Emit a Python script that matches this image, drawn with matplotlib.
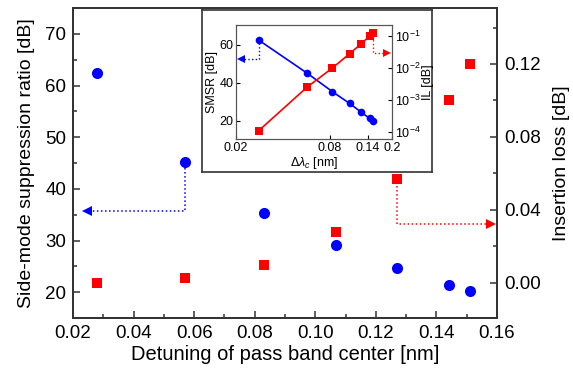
import matplotlib
matplotlib.use("Agg")
import matplotlib.pyplot as plt
import numpy as np
from matplotlib.ticker import FixedLocator, MultipleLocator, LogLocator, NullLocator, FuncFormatter

plt.rcParams['font.family'] = ['Liberation Sans', 'DejaVu Sans']
plt.rcParams['mathtext.fontset'] = 'custom'
plt.rcParams['mathtext.rm'] = 'Liberation Sans'
plt.rcParams['mathtext.it'] = 'Liberation Sans:italic'

# data
detuning = [0.028, 0.057, 0.083, 0.107, 0.127, 0.144, 0.151]
smsr = [62.5, 45.2, 35.4, 29.2, 24.6, 21.3, 20.2]
il = [0.00011, 0.0025, 0.010, 0.028, 0.057, 0.100, 0.120]
x_ticks = [0.02, 0.04, 0.06, 0.08, 0.10, 0.12, 0.14, 0.16]
inset_x_ticks = [0.02, 0.08, 0.14, 0.2]

blue = '#0000FF'
red = '#FF0000'
spine_col = '#333333'

fig = plt.figure(figsize=(5.73, 3.78), dpi=100)
ax = fig.add_axes([0.1274, 0.1587, 0.74, 0.8201])
ax2 = ax.twinx()

ax.plot(detuning, smsr, 'o', color=blue, markersize=8, markeredgewidth=0, zorder=3)
ax2.plot(detuning, il, 's', color=red, markersize=7.5, markeredgewidth=0, zorder=3)

ax.set_xlim(0.02, 0.16)
ax.set_ylim(15, 75)
ax2.set_ylim(-0.0193, 0.1507)
ax.xaxis.set_major_locator(FixedLocator(x_ticks))
ax.xaxis.set_minor_locator(MultipleLocator(0.01))
ax.xaxis.set_major_formatter(FuncFormatter(lambda v, p: f"{v:.2f}"))
ax.yaxis.set_major_locator(MultipleLocator(10))
ax.yaxis.set_minor_locator(MultipleLocator(5))
ax2.yaxis.set_major_locator(MultipleLocator(0.04))
ax2.yaxis.set_minor_locator(MultipleLocator(0.02))
ax2.yaxis.set_major_formatter(FuncFormatter(lambda v, p: f"{v:.2f}"))

for a in (ax, ax2):
    a.tick_params(which='both', direction='in', labelsize=13.5, width=1.1, colors=spine_col, labelcolor='black', pad=5)
    a.tick_params(which='major', length=5)
    a.tick_params(which='minor', length=3)
    for s in a.spines.values():
        s.set_linewidth(1.3)
        s.set_color(spine_col)
ax.tick_params(axis='x', which='both', top=False)
ax.tick_params(axis='y', which='both', right=False)
ax2.tick_params(axis='y', which='both', left=False)

ax.set_xlabel('Detuning of pass band center [nm]', fontsize=14.5, labelpad=2)
ax.set_ylabel('Side-mode suppression ratio [dB]', fontsize=14, labelpad=7)
ax2.set_ylabel('Insertion loss [dB]', fontsize=14, labelpad=9)

# indicator arrows (main)
ax.plot([detuning[1], detuning[1], 0.0255], [smsr[1] - 1.2, 35.8, 35.8], ':', color=blue, lw=1.1, zorder=2)
ax.plot([0.0245], [35.8], '<', color=blue, markersize=7, markeredgewidth=0)
ax2.plot([detuning[4], detuning[4], 0.157], [il[4] - 0.004, 0.032, 0.032], ':', color=red, lw=1.1, zorder=2)
ax2.plot([0.158], [0.032], '>', color=red, markersize=7, markeredgewidth=0, clip_on=False)

# inset frame
frame = fig.add_axes([0.3525, 0.545, 0.4014, 0.4286], zorder=5)
frame.set_xticks([]); frame.set_yticks([])
frame.set_facecolor('white')
for s in frame.spines.values():
    s.set_linewidth(1.2)
    s.set_color(spine_col)

ins = fig.add_axes([0.4119, 0.6323, 0.2722, 0.3016], zorder=6)
ins2 = ins.twinx()
ins.set_xscale('log')
ins.plot(detuning, smsr, '-o', color=blue, markersize=5.5, markeredgewidth=0, lw=1.2, zorder=3)
ins2.set_yscale('log')
ins2.plot(detuning, il, '-s', color=red, markersize=5.2, markeredgewidth=0, lw=1.2, zorder=3)
ins.set_xlim(0.02, 0.2)
ins.set_ylim(10.5, 70.5)
ins2.set_ylim(10**-4.22, 10**-0.656)
ins.xaxis.set_major_locator(FixedLocator(inset_x_ticks))
ins.xaxis.set_minor_locator(NullLocator())
ins.xaxis.set_major_formatter(FuncFormatter(lambda v, p: f"{v:g}"))
ins.yaxis.set_major_locator(MultipleLocator(20))
ins.yaxis.set_minor_locator(NullLocator())
ins2.yaxis.set_major_locator(LogLocator(base=10, numticks=10))
ins2.yaxis.set_minor_locator(NullLocator())
for a in (ins, ins2):
    a.tick_params(which='both', direction='in', labelsize=9, length=3, width=0.8, pad=2)
    for s in a.spines.values():
        s.set_linewidth(0.8)
        s.set_color('#555555')
ins.tick_params(axis='x', top=False)
ins.tick_params(axis='y', right=False)
ins2.tick_params(axis='y', left=False)
ins.set_xlabel(r'$\Delta\lambda_c$ [nm]', fontsize=9, labelpad=1)
ins.set_ylabel('SMSR [dB]', fontsize=9, labelpad=1)
ins2.set_ylabel('IL [dB]', fontsize=9, labelpad=1)

# inset arrows
ins.plot([detuning[0], detuning[0], 0.0222], [smsr[0] - 1.5, 52.6, 52.6], ':', color=blue, lw=1, zorder=2)
ins.plot([0.0215], [52.6], '<', color=blue, markersize=5.5, markeredgewidth=0, clip_on=False)
ins2.plot([detuning[6], detuning[6], 0.18], [0.10, 0.03, 0.03], ':', color=red, lw=1, zorder=2)
ins2.plot([0.185], [0.03], '>', color=red, markersize=5.5, markeredgewidth=0, clip_on=False)

fig.savefig('out.png', dpi=100)
